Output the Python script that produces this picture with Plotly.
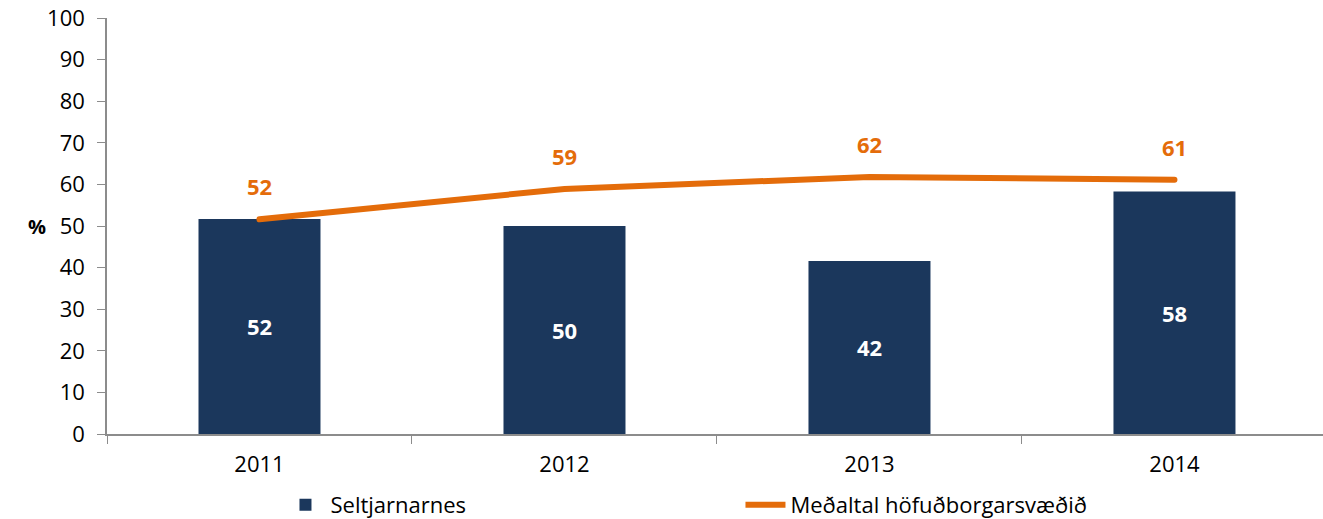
import plotly.graph_objects as go

years = ["2011", "2012", "2013", "2014"]
seltjarnarnes = [51.7, 50.0, 41.6, 58.3]
seltjarnarnes_labels = ["52", "50", "42", "58"]
medaltal = [51.6, 58.9, 61.8, 61.1]
medaltal_labels = ["52", "59", "62", "61"]
y_ticks = [0, 10, 20, 30, 40, 50, 60, 70, 80, 90, 100]

FONT = "Open Sans"
BAR_COLOR = "#1b375c"
LINE_COLOR = "#e46c0a"
AXIS_COLOR = "#8c8c8c"

fig = go.Figure()
fig.add_trace(go.Bar(
    x=years, y=seltjarnarnes, name="Seltjarnarnes",
    marker=dict(color=BAR_COLOR, line=dict(width=0)),
    width=0.4,
    text=seltjarnarnes_labels, textposition="inside", insidetextanchor="middle",
    textfont=dict(family=FONT, size=22, color="white", weight="bold"),
    textangle=0,
))
fig.add_trace(go.Scatter(
    x=years, y=medaltal, name="Meðaltal höfuðborgarsvæðið",
    mode="lines", line=dict(color=LINE_COLOR, width=6),
))
for i, (v, lab) in enumerate(zip(medaltal, medaltal_labels)):
    fig.add_annotation(x=i, y=v, text=f"<b>{lab}</b>", showarrow=False,
                       yshift=33, font=dict(family=FONT, size=22, color=LINE_COLOR))

fig.add_annotation(xref="paper", yref="paper", x=-0.067, y=0.5, text="<b>%</b>",
                   showarrow=False, font=dict(family=FONT, size=20, color="black"))

fig.update_layout(
    width=1323, height=519,
    margin=dict(l=107, r=0, t=18, b=85),
    plot_bgcolor="white", paper_bgcolor="white",
    font=dict(family=FONT, size=22, color="black"),
    showlegend=True,
    legend=dict(orientation="h", xref="container", yref="container",
                x=0.212, y=0.027, xanchor="left", yanchor="middle",
                entrywidth=405, entrywidthmode="pixels",
                font=dict(family=FONT, size=22, color="black"),
                itemwidth=40, tracegroupgap=0),
    bargap=0.6,
)
fig.update_xaxes(
    type="category", range=[-0.5, 3.487],
    showline=True, linecolor=AXIS_COLOR, linewidth=1.5,
    ticks="outside", tickson="boundaries", ticklen=8, tickcolor=AXIS_COLOR,
    tickfont=dict(family=FONT, size=22), showgrid=False,
    ticklabelstandoff=10,
)
fig.update_yaxes(
    range=[0, 100], tickvals=y_ticks,
    showline=True, linecolor=AXIS_COLOR, linewidth=1.5,
    ticks="outside", ticklen=8, tickcolor=AXIS_COLOR,
    tickfont=dict(family=FONT, size=22), showgrid=False, zeroline=False,
    ticklabelstandoff=8,
)

post = (
    "document.body.style.margin='0';document.body.style.overflow='hidden';"
    "document.querySelectorAll('.scatterlayer path.js-line').forEach(function(p){p.style.strokeLinecap='round';});"
)
fig.write_html("out.html", config={"displayModeBar": False}, post_script=post)
